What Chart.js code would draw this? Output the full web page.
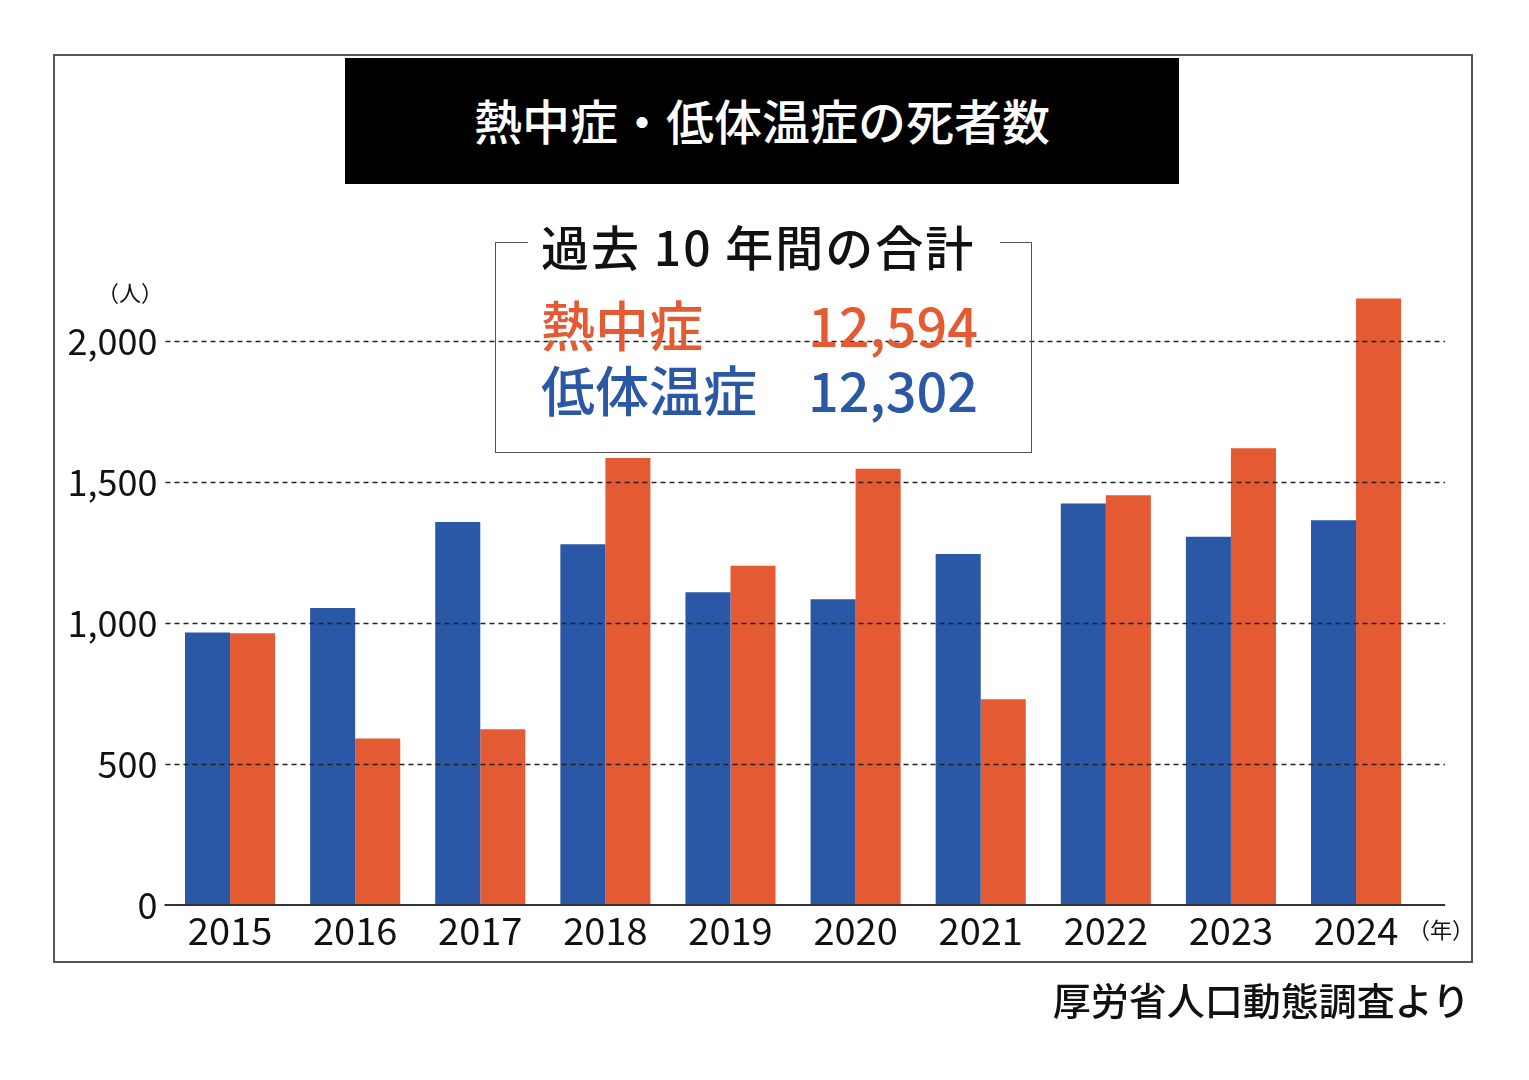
<!DOCTYPE html>
<html><head><meta charset="utf-8">
<script src="https://cdn.jsdelivr.net/npm/chart.js@4.4.1/dist/chart.umd.min.js"></script>
<style>
html,body{margin:0;padding:0;background:#fff;}
body{width:1529px;height:1080px;overflow:hidden;position:relative;font-family:"Noto Sans CJK JP","Noto Sans",sans-serif;color:#111;}
#c{position:absolute;left:0;top:0;}
.abs{position:absolute;white-space:nowrap;}
.frame{position:absolute;left:53px;top:54px;width:1420px;height:909px;border:2px solid #555;box-sizing:border-box;}
.titlebox{position:absolute;left:345px;top:58px;width:834px;height:126px;background:#000;color:#fff;font-size:48px;font-weight:500;text-align:center;line-height:122px;}
.abox{position:absolute;left:495px;top:242px;width:537px;height:211px;border:1.5px solid #555;border-top:none;box-sizing:border-box;}
.seg{position:absolute;height:0;border-top:1.5px solid #555;top:242px;}
.row{position:absolute;left:541px;width:437px;display:flex;justify-content:space-between;font-size:54px;font-weight:500;line-height:54px;}
</style></head>
<body>
<canvas id="c" width="1529" height="1080"></canvas>
<div class="frame"></div>
<div class="titlebox">熱中症・低体温症の死者数</div>
<div class="abox"></div>
<div class="seg" style="left:495px;width:33px;"></div>
<div class="seg" style="left:1000px;width:32px;"></div>
<div class="abs" style="left:541px;top:221px;font-size:48px;font-weight:500;line-height:48px;letter-spacing:2px;">過去 10 年間の合計</div>
<div class="row" style="top:297px;color:#E35A33;"><span>熱中症</span><span>12,594</span></div>
<div class="row" style="top:362px;color:#2B57A7;"><span>低体温症</span><span>12,302</span></div>
<div class="abs" style="left:97px;width:62px;text-align:center;top:280px;font-size:22px;line-height:22px;">（人）</div>
<div class="abs" style="left:1408px;width:60px;text-align:center;top:917px;font-size:22px;line-height:22px;">（年）</div>
<div class="abs" style="right:59px;top:980px;font-size:38px;font-weight:500;line-height:38px;">厚労省人口動態調査より</div>
<script>
const years = ['2015','2016','2017','2018','2019','2020','2021','2022','2023','2024'];
const hypothermia = [966,1053,1358,1279,1109,1084,1245,1424,1306,1364];
const heatstroke = [964,590,623,1585,1203,1547,730,1453,1620,2151];
const yTickValues = [0,500,1000,1500,2000];
const gridValues = [500,1000,1500,2000];

const BLUE = '#2B57A7';
const ORANGE = '#E35A33';

const overlay = {
  id: 'overlay',
  afterDatasetsDraw(chart) {
    const {ctx, chartArea} = chart;
    const y = chart.scales.y;
    const left = chartArea.left - 2;
    const right = chartArea.right + 26.5;
    ctx.save();
    ctx.strokeStyle = '#222';
    ctx.lineWidth = 1.3;
    ctx.setLineDash([5,4]);
    for (const v of gridValues) {
      const py = Math.round(y.getPixelForValue(v)) + 0.5;
      ctx.beginPath(); ctx.moveTo(left, py); ctx.lineTo(right, py); ctx.stroke();
    }
    ctx.setLineDash([]);
    ctx.strokeStyle = '#333';
    ctx.lineWidth = 2;
    const p0 = Math.round(y.getPixelForValue(0));
    ctx.beginPath(); ctx.moveTo(left - 1, p0); ctx.lineTo(right, p0); ctx.stroke();
    ctx.restore();
  }
};

new Chart(document.getElementById('c'), {
  type: 'bar',
  data: {
    labels: years,
    datasets: [
      {label:'低体温症', data: hypothermia, backgroundColor: BLUE, borderWidth:0},
      {label:'熱中症', data: heatstroke, backgroundColor: ORANGE, borderWidth:0}
    ]
  },
  options: {
    responsive: false,
    animation: false,
    devicePixelRatio: 1,
    layout: {padding: {left:0, right:110.4, top:284.6, bottom:0}},
    plugins: {legend:{display:false}, tooltip:{enabled:false}, title:{display:false}},
    datasets: {bar: {categoryPercentage: 0.72, barPercentage: 1.0}},
    scales: {
      x: {
        grid: {display:false, drawTicks:false},
        border: {display:false},
        ticks: {color:'#111', font:{family:'"Noto Sans CJK JP"', size:38}, padding:3, maxRotation:0},
        afterFit: s => { s.height = 175; }
      },
      y: {
        min: 0, max: 2200,
        grid: {display:false, drawTicks:false},
        border: {display:false},
        afterBuildTicks: s => { s.ticks = yTickValues.map(v => ({value:v})); },
        ticks: {color:'#111', font:{family:'"Noto Sans CJK JP"', size:36}, padding:10,
          callback: v => v.toLocaleString('en-US')},
        afterFit: s => { s.width = 167.5; }
      }
    }
  },
  plugins: [overlay]
});
</script>
</body></html>
